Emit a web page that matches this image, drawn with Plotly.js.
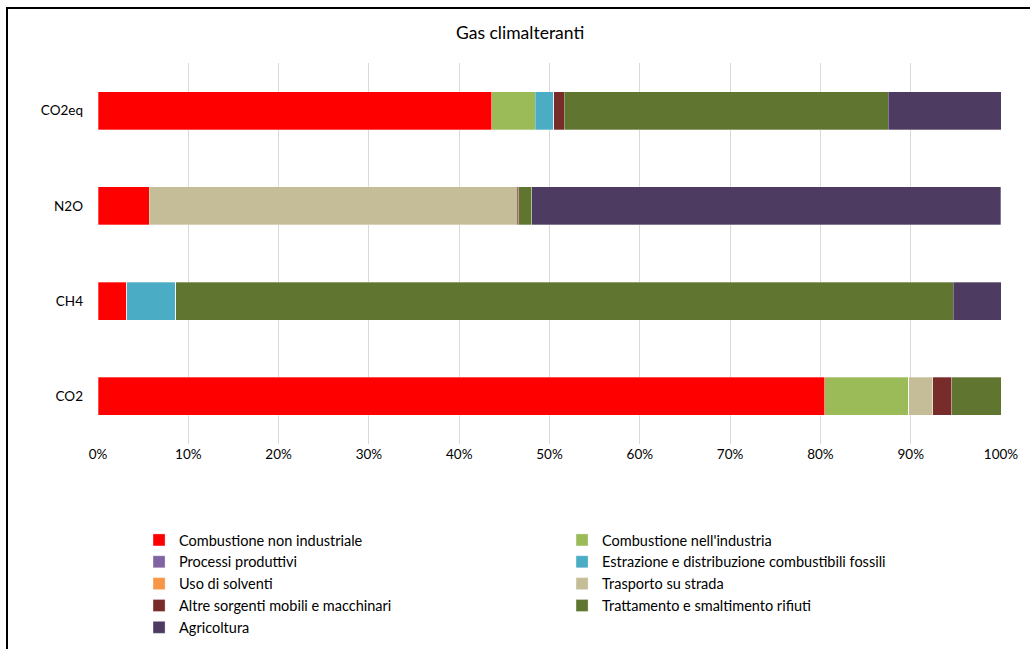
<!DOCTYPE html>
<html>
<head>
<meta charset="utf-8">
<script src="https://cdn.plot.ly/plotly-3.0.1.min.js"></script>
<style>
html,body{margin:0;padding:0;background:#fff;overflow:hidden;}
#frame{position:absolute;left:6px;top:7px;width:1040px;height:700px;border:2px solid #000;box-sizing:border-box;pointer-events:none;z-index:10;}
#chart{position:absolute;left:0;top:0;width:1030px;height:649px;}
</style>
</head>
<body>
<div id="chart"></div>
<div id="frame"></div>
<script>
const categories = ["CO2", "CH4", "N2O", "CO2eq"];
const seriesNames = [
  "Combustione non industriale",
  "Combustione nell'industria",
  "Processi produttivi",
  "Estrazione e distribuzione combustibili fossili",
  "Uso di solventi",
  "Trasporto su strada",
  "Altre sorgenti mobili e macchinari",
  "Trattamento e smaltimento rifiuti",
  "Agricoltura"
];
const seriesColors = ["#FF0000", "#9BBB59", "#8064A2", "#4BACC6", "#F79646", "#C4BD97", "#772C2A", "#5F7530", "#4D3B62"];
// values in % for [CO2, CH4, N2O, CO2eq]
const combNonInd   = [80.5, 3.16, 5.65, 43.6];
const combInd      = [9.30, 0, 0, 4.84];
const processi     = [0, 0, 0, 0];
const estrazione   = [0, 5.46, 0, 2.03];
const solventi     = [0, 0, 0, 0];
const trasporto    = [2.63, 0, 40.76, 0];
const altreSorg    = [2.14, 0, 0.18, 1.14];
const rifiuti      = [5.43, 86.11, 1.44, 35.93];
const agricoltura  = [0, 5.27, 51.95, 12.47];
const seriesValues = [combNonInd, combInd, processi, estrazione, solventi, trasporto, altreSorg, rifiuti, agricoltura];
const xTickVals = [0,10,20,30,40,50,60,70,80,90,100];
const xTickText = xTickVals.map(v => v + "%");

const traces = seriesNames.map((name, i) => ({
  type: "bar",
  orientation: "h",
  name: name,
  y: categories,
  x: seriesValues[i],
  marker: {color: seriesColors[i], line: {color: "rgba(255,255,255,0.5)", width: 0.6}},
  hoverinfo: "x+name"
}));

const layout = {
  width: 1030,
  height: 649,
  barmode: "stack",
  bargap: 0.6,
  paper_bgcolor: "#fff",
  plot_bgcolor: "#fff",
  font: {family: "Lato, 'Noto Sans', sans-serif", size: 13.5, color: "#000"},
  title: {text: "Gas climalteranti", x: 0.505, xref: "container", y: 0.95, yref: "container", yanchor: "middle", font: {size: 17.5, color: "#000"}},
  margin: {l: 98, r: 29, t: 63, b: 205},
  xaxis: {
    range: [0, 100],
    tickvals: xTickVals,
    ticktext: xTickText,
    showgrid: true,
    gridcolor: "#D9D9D9",
    gridwidth: 1,
    zeroline: false,
    showline: false,
    ticks: "",
    tickfont: {size: 13.5},
    fixedrange: true
  },
  yaxis: {
    categoryorder: "array",
    categoryarray: categories,
    showgrid: false,
    zeroline: false,
    showline: false,
    ticks: "",
    ticklabelstandoff: 14,
    tickfont: {size: 13.5},
    fixedrange: true
  },
  showlegend: true,
  legend: {
    orientation: "h",
    traceorder: "normal",
    xref: "container",
    yref: "container",
    x: 0.135,
    xanchor: "left",
    y: 1 - 524/649,
    yanchor: "top",
    entrywidth: 378,
    entrywidthmode: "pixels",
    tracegroupgap: 0,
    itemwidth: 30,
    font: {size: 14.5},
    bgcolor: "rgba(0,0,0,0)"
  }
};

Plotly.newPlot("chart", traces, layout, {displayModeBar: false, staticPlot: true});
</script>
</body>
</html>
